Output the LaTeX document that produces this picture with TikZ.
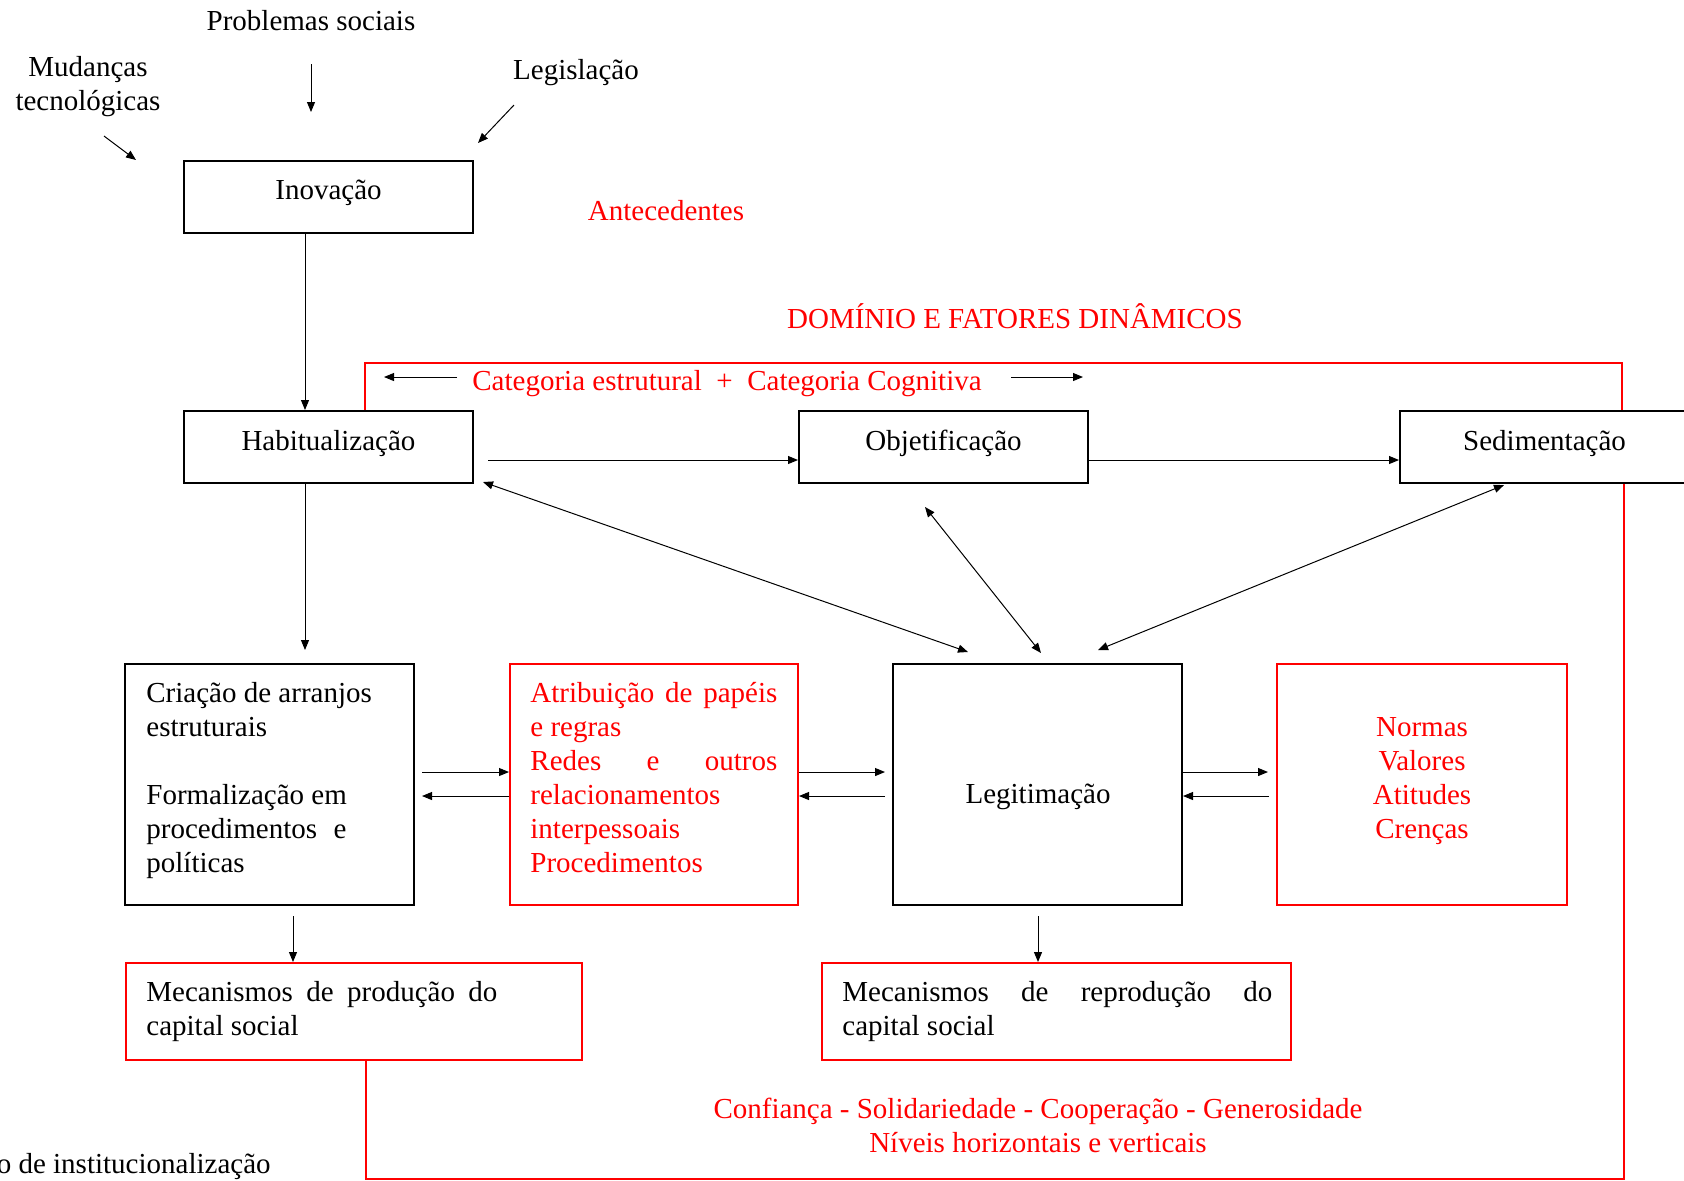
\documentclass[tikz,border=0pt]{standalone}
\usepackage{fontspec}
\setmainfont{Liberation Serif}
\usetikzlibrary{arrows.meta,calc}
\definecolor{rd}{RGB}{255,0,0}
\begin{document}
\begin{tikzpicture}[x=0.5pt,y=-0.5pt,
  every node/.style={font=\fontsize{14.5}{17}\selectfont, inner sep=0pt},
  bbox/.style={draw=black, line width=1pt, minimum width=144.5pt, minimum height=36pt, text height=6pt, text depth=3pt},
  rbox/.style={draw=rd, line width=1pt},
  arr/.style={-{Triangle[length=5pt,width=4pt]}, line width=0.5pt},
  darr/.style={{Triangle[length=5pt,width=4pt]}-{Triangle[length=5pt,width=4pt]}, line width=0.5pt},
  rframe/.style={draw=rd, line width=1pt},
  rtext/.style={text=rd}]
\useasboundingbox (0,0) rectangle (1684,1180);

% top labels
\node[anchor=base] (ps) at (311,30) {Problemas sociais};
\node[anchor=base] (mud) at (88,76) {\parbox[t]{90pt}{\centering Mudanças\\ tecnológicas}};
\node[anchor=base] (leg1) at (576,79) {Legislação};
\node[anchor=base, rtext] (ant) at (666,220) {Antecedentes};
\node[anchor=base, rtext] (dom) at (1015,328) {DOMÍNIO E FATORES DINÂMICOS};
\node[anchor=base, rtext] (cat) at (727,390) {Categoria estrutural\ \ +\ \ Categoria Cognitiva};

% boxes
\node[bbox] (inov) at (328.5,196.5) {Inovação};
\node[bbox] (hab) at (328.5,447) {Habitualização};
\node[bbox] (obj) at (943.5,447) {Objetificação};
\node[bbox] (sed) at (1544.5,447) {Sedimentação};

\node[bbox, minimum height=120.5pt] (cri) at (269.5,784.5) {};
\node[rbox, minimum width=144pt, minimum height=120.5pt] (atr) at (654,784.5) {};
\node[bbox, minimum height=120.5pt] (leg) at (1037.5,784.5) {};
\node[rbox, minimum width=145pt, minimum height=120.5pt] (nor) at (1422,784.5) {};
\node[rbox, minimum width=228pt, minimum height=48.5pt] (mp) at (354,1011.5) {};
\node[rbox, minimum width=234.5pt, minimum height=48.5pt] (mr) at (1056.5,1011.5) {};

% box texts
\node[anchor=base west] (critxt) at (146,702) {\parbox[t]{130pt}{Criação de arranjos\\ estruturais\\[17pt]Formalização em\\ \makebox[100pt][s]{procedimentos e}\\ políticas}};
\node[anchor=base west, rtext] (atrtxt) at (530,702) {\parbox[t]{123.5pt}{\makebox[123.5pt][s]{Atribuição de papéis}\\ e regras\\ \makebox[123.5pt][s]{Redes e outros}\\ relacionamentos\\ interpessoais\\ Procedimentos}};
\node[anchor=base] (legtxt) at (1038,803) {Legitimação};
\node[anchor=base, rtext] (nortxt) at (1422,736) {\parbox[t]{100pt}{\centering Normas\\ Valores\\ Atitudes\\ Crenças}};
\node[anchor=base west] (mptxt) at (146,1001) {\parbox[t]{175.5pt}{\makebox[175.5pt][s]{Mecanismos de produção do}\\ capital social}};
\node[anchor=base west] (mrtxt) at (842,1001) {\parbox[t]{215pt}{\makebox[215pt][s]{Mecanismos de reprodução do}\\ capital social}};

% bottom texts
\node[anchor=base, rtext] (conf) at (1038,1118) {Confiança - Solidariedade - Cooperação - Generosidade};
\node[anchor=base, rtext] (niv) at (1038,1152) {Níveis horizontais e verticais};
\node[anchor=base east] (proc) at (271,1173) {Processo de institucionalização};

% red frames
\draw[rframe] ($(hab.north)+(36.5,0)$) -- ++(0,-47) -| ($(sed.north)+(77.5,0)$);
\draw[rframe] ($(mp.south)+(12,0)$) -- ++(0,118) -| ($(sed.south)+(79.5,0)$);

% external arrows
\coordinate (psA) at (311,64);  \coordinate (psB) at (311,112);
\coordinate (mdA) at (104,136); \coordinate (mdB) at (136,160);
\coordinate (lgA) at (514,105); \coordinate (lgB) at (478,143);
\draw[arr] (psA) -- (psB);
\draw[arr] (mdA) -- (mdB);
\draw[arr] (lgA) -- (lgB);

% category arrows
\coordinate (caL1) at (457,377); \coordinate (caL2) at (384,377);
\coordinate (caR1) at (1011,377); \coordinate (caR2) at (1083,377);
\draw[arr] (caL1) -- (caL2);
\draw[arr] (caR1) -- (caR2);

% vertical arrows
\draw[arr] ($(inov.south)+(-23.5,0)$) -- ($(hab.north)+(-23.5,0)$);
\draw[arr] ($(hab.south)+(-23.5,0)$) -- ($(cri.north)+(35.5,-13)$);
\draw[arr] ($(cri.south)+(23.5,10)$) -- ($(mp.north)+(-61,0)$);
\draw[arr] ($(leg.south)+(0.5,10)$) -- ($(mr.north)+(-18.5,0)$);

% top row horizontal
\draw[arr] ($(hab.east)+(14,13)$) -- ($(obj.west)+(0,13)$);
\draw[arr] ($(obj.east)+(0,13)$) -- ($(sed.west)+(0,13)$);

% diagonals
\draw[darr] ($(hab.south east)+(9,-2)$) -- ($(leg.north)+(-69.5,-11)$);
\draw[darr] ($(obj.south)+(-18.5,23)$) -- ($(leg.north)+(3.5,-10)$);
\draw[darr] ($(sed.south)+(-40.5,1)$) -- ($(leg.north)+(60.5,-13)$);

% middle row pairs
\draw[arr] ($(cri.east)+(7,-12.5)$) -- ($(atr.west)+(0,-12.5)$);
\draw[arr] ($(atr.west)+(0,11.5)$) -- ($(cri.east)+(7,11.5)$);
\draw[arr] ($(atr.east)+(0,-12.5)$) -- ($(leg.west)+(-7,-12.5)$);
\draw[arr] ($(leg.west)+(-7,11.5)$) -- ($(atr.east)+(0,11.5)$);
\draw[arr] ($(leg.east)+(0,-12.5)$) -- ($(nor.west)+(-8,-12.5)$);
\draw[arr] ($(nor.west)+(-7,11.5)$) -- ($(leg.east)+(0,11.5)$);
\end{tikzpicture}
\end{document}
